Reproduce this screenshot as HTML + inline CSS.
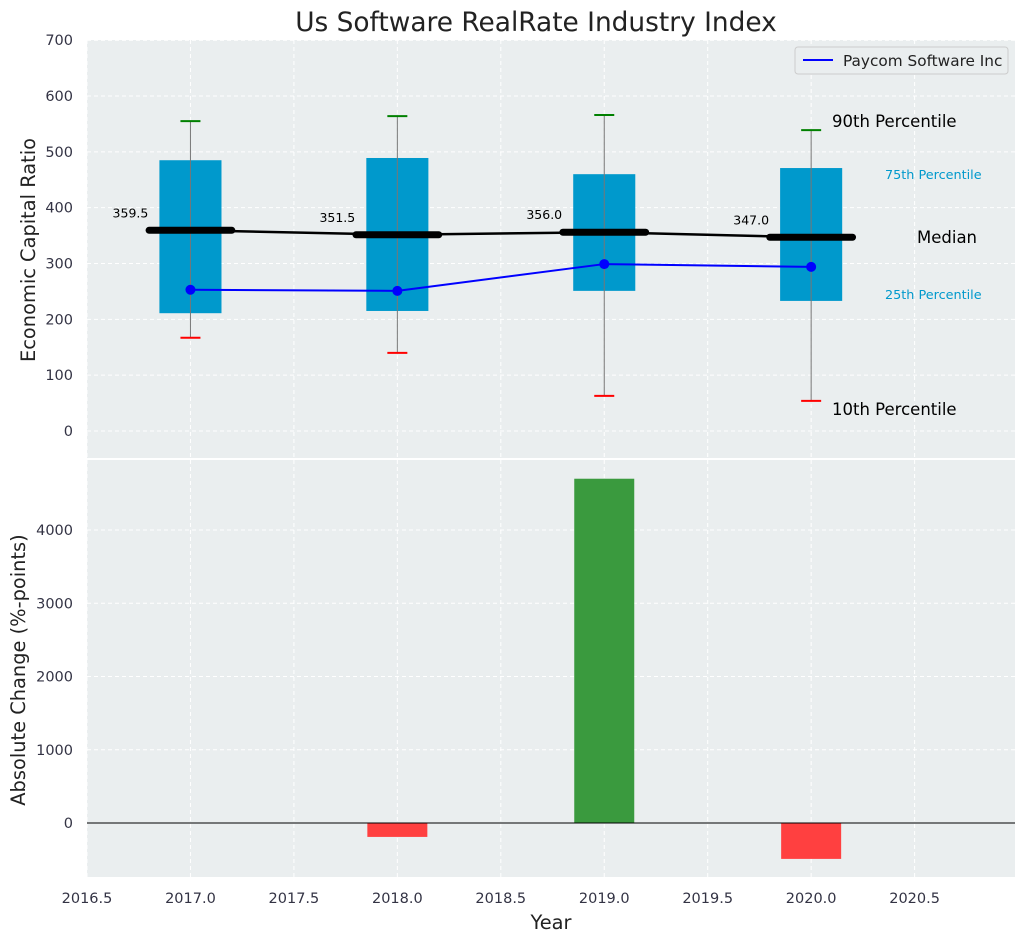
<!DOCTYPE html>
<html><head><meta charset="utf-8"><style>
body{margin:0;background:#fff;font-family:"Liberation Sans","DejaVu Sans",sans-serif}
svg text{font-family:"DejaVu Sans","Liberation Sans",sans-serif}
</style></head><body>
<svg id="chart" width="1026" height="942" xmlns="http://www.w3.org/2000/svg">
<text x="536" y="31" font-size="26.4" fill="#222" text-anchor="middle">Us Software RealRate Industry Index</text>
<rect x="87" y="40" width="928" height="418" fill="#eaeeef"/>
<rect x="87" y="460" width="928" height="417" fill="#eaeeef"/>
<g id="topg"></g><g id="botg"></g>
<text x="35" y="250" font-size="19.4" fill="#222" text-anchor="middle" transform="rotate(-90 35 250)">Economic Capital Ratio</text>
<text x="25" y="670" font-size="19.4" fill="#222" text-anchor="middle" transform="rotate(-90 25 670)">Absolute Change (%-points)</text>
<text x="551" y="929" font-size="19.4" fill="#222" text-anchor="middle">Year</text>
<g>
<rect x="795" y="47" width="213" height="27" rx="3" fill="#eaeeef" stroke="#ccc"/>
<line x1="803" y1="60" x2="833" y2="60" stroke="#00f" stroke-width="2"/>
<text x="843" y="66" font-size="15.3" fill="#222">Paycom Software Inc</text>
</g>
<text x="832" y="127" font-size="16.5" fill="#000">90th Percentile</text>
<text x="885" y="179" font-size="12.8" fill="#0099cc">75th Percentile</text>
<text x="917" y="243" font-size="16.5" fill="#000">Median</text>
<text x="885" y="299" font-size="12.8" fill="#0099cc">25th Percentile</text>
<text x="832" y="415" font-size="16.5" fill="#000">10th Percentile</text>
</svg>
<script>
const years=[2017,2018,2019,2020];
const p10=[167,140,63,54];
const p25=[211,215,251,233];
const medians=[359.5,351.5,356.0,347.0];
const p75=[485,489,460,471];
const p90=[555,564,566,539];
const company=[253,251,299,294];
const changes=[0,-190,4700,-490];
const yTicksTop=[0,100,200,300,400,500,600,700];
const yTicksBot=[0,1000,2000,3000,4000];
const xTicks=[2016.5,2017,2017.5,2018,2018.5,2019,2019.5,2020,2020.5];
const NS="http://www.w3.org/2000/svg";
const X=v=>87+(v-2016.5)*206.9;
const Yt=v=>431-v*0.5583;
const Yb=v=>823-v*0.07325;
const topG=document.getElementById('topg'),botG=document.getElementById('botg');
function mk(p,t,a){const e=document.createElementNS(NS,t);for(const k in a)e.setAttribute(k,a[k]);p.appendChild(e);return e;}
xTicks.forEach(v=>{
 let l=mk(topG,'line',{x1:X(v),x2:X(v),y1:40,y2:458,stroke:'#fff','stroke-dasharray':'4,3'});
 
 
 let l2=mk(botG,'line',{x1:X(v),x2:X(v),y1:460,y2:877,stroke:'#fff','stroke-dasharray':'4,3'});
 
 
 let t=mk(botG,'text',{x:X(v),y:903,'font-size':14.5,fill:'#334','text-anchor':'middle'});t.textContent=v.toFixed(1);
 
 
});
yTicksTop.forEach(v=>{
 let l=mk(topG,'line',{x1:87,x2:1015,y1:Yt(v),y2:Yt(v),stroke:'#fff','stroke-dasharray':'4,3'});
 
 
 let t=mk(topG,'text',{x:73,y:Yt(v)+5,'font-size':14.5,fill:'#334','text-anchor':'end'});t.textContent=v;
 
 
});
yTicksBot.forEach(v=>{
 let l=mk(botG,'line',{x1:87,x2:1015,y1:Yb(v),y2:Yb(v),stroke:'#fff','stroke-dasharray':'4,3'});
 
 
 let t=mk(botG,'text',{x:73,y:Yb(v)+5,'font-size':14.5,fill:'#334','text-anchor':'end'});t.textContent=v;
 
 
});
years.forEach((y,i)=>{
 let b=mk(topG,'rect',{x:X(y-0.15),y:Yt(p75[i]),width:X(y+0.15)-X(y-0.15),height:Yt(p25[i])-Yt(p75[i]),fill:'#0099cc'});
 
 
 let w=mk(topG,'line',{x1:X(y),x2:X(y),y1:Yt(p90[i]),y2:Yt(p10[i]),stroke:'#777','stroke-width':1});
 
 
 let h=mk(topG,'line',{x1:X(y)-10,x2:X(y)+10,y1:Yt(p90[i]),y2:Yt(p90[i]),stroke:'green','stroke-width':2});
 
 
 let lo=mk(topG,'line',{x1:X(y)-10,x2:X(y)+10,y1:Yt(p10[i]),y2:Yt(p10[i]),stroke:'red','stroke-width':2});
 
 
});
let mp=mk(topG,'polyline',{points:years.map((y,i)=>X(y)+','+Yt(medians[i])).join(' '),fill:'none',stroke:'#000','stroke-width':2.5});


years.forEach((y,i)=>{
 let m=mk(topG,'line',{x1:X(y-0.2),x2:X(y+0.2),y1:Yt(medians[i]),y2:Yt(medians[i]),stroke:'#000','stroke-width':7,'stroke-linecap':'round'});
 
 
 let t=mk(topG,'text',{x:X(y-0.29),y:Yt(medians[i])-13,'font-size':12.5,fill:'#000','text-anchor':'middle'});t.textContent=medians[i].toFixed(1);
 
 
});
let cp=mk(topG,'polyline',{points:years.map((y,i)=>X(y)+','+Yt(company[i])).join(' '),fill:'none',stroke:'#00f','stroke-width':2});


years.forEach((y,i)=>{
 let c=mk(topG,'circle',{cx:X(y),cy:Yt(company[i]),r:5,fill:'#00f'});
 
 
 if(changes[i]!==0){
  let v=changes[i];
  let r=mk(botG,'rect',{x:X(y-0.145),width:X(y+0.145)-X(y-0.145),y:Math.min(Yb(v),Yb(0)),height:Math.abs(Yb(v)-Yb(0)),fill:v>0?'#3a9a3e':'#ff4040'});
  
  
 }
});
let z=mk(botG,'line',{x1:87,x2:1015,y1:Yb(0),y2:Yb(0),stroke:'#000','stroke-width':1});


</script>
</body></html>
